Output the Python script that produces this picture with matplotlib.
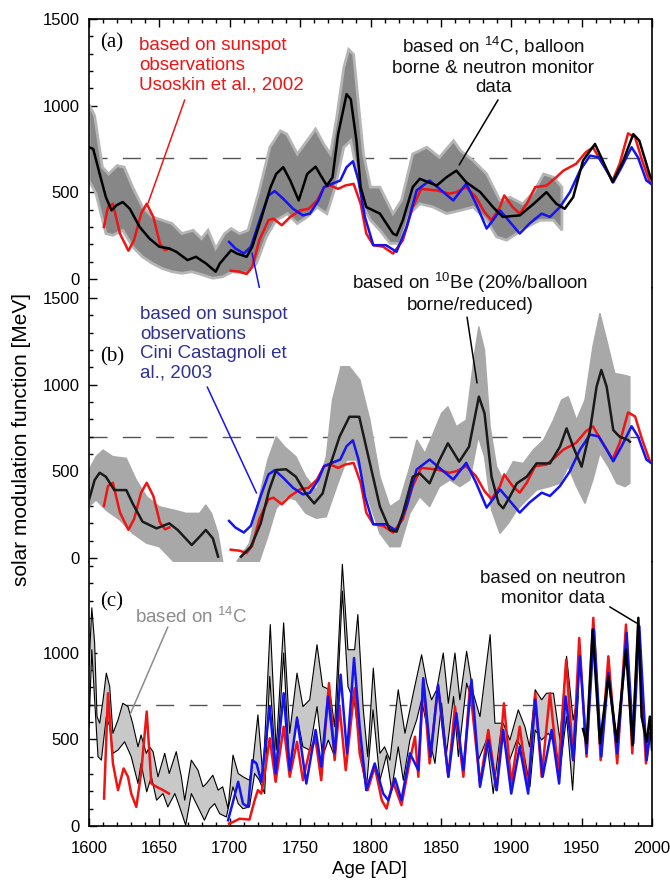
import matplotlib
matplotlib.use("Agg")
import matplotlib.pyplot as plt
import numpy as np
from matplotlib.ticker import MultipleLocator

plt.rcParams["font.family"] = ["Liberation Sans", "DejaVu Sans"]
plt.rcParams["font.size"] = 13.5
plt.rcParams["mathtext.fontset"] = "custom"
plt.rcParams["mathtext.rm"] = "Liberation Sans"

nan = np.nan

# ---- panel (a) / (b): sunspot based reconstructions (shared) ----
red_year = [1610.6, 1613.5, 1617, 1622, 1628, 1632, 1637, 1641, 1645.7, 1650.4, 1654, 1657, nan,
            1700.7, 1707, 1712, 1716, 1721, 1727.5, 1731, 1737, 1743, 1750, 1756, 1762, 1767, 1771.5,
            1777, 1782, 1788, 1793, 1797, 1802, 1809, 1816, 1823, 1830, 1836, 1847, 1856, 1861, 1868,
            1875, 1881, 1886, 1892, 1895, 1901, 1906, 1911, 1917, 1925, 1932, 1937, 1946, 1953, 1958,
            1965, 1972, 1977, 1983, 1988, 1993, 1998.5, 2000]
red_val = [300, 415, 434, 262, 163, 224, 377, 434, 358, 205, 166, 176, nan,
           48, 42, 29, 71, 224, 339, 348, 310, 358, 396, 405, 453, 530, 539,
           520, 539, 549, 434, 262, 195, 186, 147, 224, 415, 520, 511, 492, 501, 530,
           472, 386, 339, 415, 482, 415, 377, 434, 530, 539, 587, 625, 664, 731, 760,
           664, 568, 664, 840, 817, 683, 558, 545]

blue_year = [1699.5, 1704, 1710, 1715, 1722, 1727.5, 1732, 1738, 1745, 1752, 1757, 1763, 1767, 1772.6,
             1778.5, 1783, 1787.5, 1791.5, 1796, 1802, 1811, 1818.5, 1825.7, 1832.8, 1842, 1849, 1858.8,
             1868, 1875, 1882.5, 1887, 1892, 1898, 1906, 1913, 1921.6, 1927.5, 1934.6, 1941.7, 1948.8,
             1956, 1962, 1967.8, 1972.5, 1978.4, 1985.5, 1990, 1996, 2000]
blue_val = [214, 176, 147, 186, 358, 482, 507, 463, 405, 367, 377, 453, 530, 549,
            568, 645, 679, 568, 358, 195, 195, 157, 300, 511, 568, 520, 453,
            549, 434, 291, 339, 396, 339, 262, 320, 377, 358, 415, 501, 625,
            712, 702, 625, 558, 645, 760, 702, 568, 545]

# ---- panel (a): 14C, balloon borne & neutron monitor ----
a_black_year = [1600, 1603, 1607.6, 1612, 1616, 1619.5, 1624, 1629, 1636, 1643, 1650, 1657, 1662, 1670,
                1676, 1683, 1690, 1693, 1701, 1705, 1712, 1716, 1722, 1729, 1733, 1738, 1743, 1749, 1755,
                1761, 1764, 1769, 1773, 1777, 1783, 1786, 1790, 1793, 1797, 1806.7, 1816, 1818.5, 1823,
                1830, 1835, 1847, 1854, 1861, 1868, 1878, 1887, 1894, 1906, 1916, 1925, 1932, 1938, 1944,
                1951, 1959.5, 1965, 1972, 1979.6, 1986.7, 1991, 1998.5, 2000]
a_black_val = [760, 750, 606, 472, 396, 425, 444, 405, 300, 233, 186, 176, 157, 109,
               128, 90, 42, 90, 166, 147, 128, 186, 339, 530, 606, 645, 568, 453, 606,
               648, 606, 539, 587, 836, 1066, 1037, 798, 530, 415, 377, 262, 252, 339,
               530, 578, 539, 587, 625, 558, 501, 415, 358, 367, 434, 501, 434, 405, 472,
               683, 779, 683, 558, 683, 836, 798, 597, 570]

a_up_year = [1600, 1604, 1609.5, 1614, 1620, 1625, 1631, 1638, 1645, 1652, 1659, 1666, 1674, 1680,
             1684.6, 1690, 1696.4, 1701, 1707, 1713, 1721, 1728.5, 1736, 1740.5, 1748, 1755, 1761,
             1766.7, 1771.5, 1776, 1781, 1784.5, 1788, 1791.7, 1795, 1800, 1806.7, 1816, 1822, 1830,
             1840, 1849, 1859, 1864, 1873, 1882.5, 1892, 1899, 1908, 1916, 1923, 1930, 1936]
a_up_val = [1008, 941, 645, 606, 654, 645, 530, 415, 358, 339, 320, 262, 281, 233,
            281, 176, 262, 291, 262, 281, 511, 760, 855, 836, 721, 798, 865,
            779, 721, 932, 1219, 1324, 1295, 989, 721, 530, 530, 377, 453, 721,
            760, 702, 798, 740, 683, 606, 453, 472, 434, 501, 606, 587, 530]
a_lo_year = [1600, 1605, 1612, 1617, 1624, 1631, 1638, 1645, 1652, 1659, 1666, 1673, 1681, 1688, 1695,
             1702, 1712, 1719, 1726, 1733, 1741, 1748, 1755, 1762, 1769, 1775, 1781, 1786, 1790.6, 1795,
             1800, 1806.7, 1814, 1821, 1828, 1835, 1844.6, 1854, 1864, 1873, 1882.5, 1889.6, 1896.7,
             1904, 1911, 1920.4, 1930, 1936]
a_lo_val = [568, 492, 262, 252, 281, 186, 128, 90, 61, 42, 33, 42, 23, 4, 13,
            42, 33, 90, 243, 339, 377, 320, 358, 415, 377, 530, 760, 798, 606, 415,
            339, 281, 205, 205, 377, 434, 415, 377, 396, 415, 339, 243, 224,
            262, 300, 339, 339, 281]

# ---- panel (b): 10Be ----
b_black_year = [1600, 1604, 1607.6, 1612, 1618, 1626.5, 1631, 1638, 1648, 1657, 1663, 1673, 1678.6,
                1683, 1688, 1691.7, nan, 1708, 1715, 1722, 1728, 1733, 1740, 1747, 1754, 1760, 1766,
                1771, 1778, 1785, 1792, 1799.6, 1806.7, 1813.8, 1818.5, 1823, 1830, 1835, 1842, 1849,
                1855, 1863, 1870, 1877, 1881, 1886, 1891, 1894.3, 1899, 1904, 1911, 1918, 1927.5,
                1934.6, 1939.3, 1944, 1950, 1956, 1960.6, 1964, 1967.8, 1972.5, 1977, 1983, 1984.3]
b_black_val = [335, 450, 492, 469, 392, 392, 315, 210, 171, 200, 162, 75, 123,
               162, 113, 8, nan, 8, 65, 200, 392, 508, 512, 469, 373, 315, 373,
               527, 700, 815, 815, 546, 296, 162, 152, 258, 469, 488, 431, 565,
               662, 556, 642, 931, 835, 469, 315, 287, 354, 431, 469, 546, 546,
               642, 748, 642, 527, 738, 988, 1085, 988, 738, 700, 681, 671]

b_up1_year = [1600, 1605, 1610, 1617, 1626.5, 1633.6, 1641, 1650, 1660, 1669, 1678.6, 1683, 1687,
              1691.7, 1695]
b_up1_val = [508, 585, 623, 585, 575, 450, 354, 296, 277, 258, 258, 306, 258, 142, -20]
b_lo1_year = [1600, 1605, 1612, 1622, 1631, 1641, 1650, 1660, 1690]
b_lo1_val = [296, 335, 277, 219, 142, 85, 65, -20, -20]

b_up2_year = [1705, 1714, 1721, 1727, 1733, 1739, 1747, 1754, 1761.5, 1768.6, 1773, 1779, 1785,
              1792.5, 1799.6, 1806.7, 1813.8, 1821, 1828, 1833, 1838.7, 1844.6, 1850.5, 1855, 1861,
              1868, 1874, 1877, 1881, 1885, 1889.6, 1894.3, 1901.4, 1908.5, 1915.6, 1923, 1930,
              1935.8, 1940.5, 1946.4, 1952.4, 1958, 1963, 1967.8, 1973.6, 1979.6, 1984.3]
b_up2_val = [-20, 85, 354, 565, 700, 642, 585, 469, 392, 585, 912, 1104, 1104,
             1027, 796, 469, 296, 335, 527, 681, 604, 719, 835, 873, 758,
             796, 1181, 1335, 1200, 758, 527, 450, 556, 546, 623, 681, 796,
             912, 931, 796, 912, 1219, 1412, 1258, 1065, 1056, 1046]
b_lo2_year = [1705, 1721, 1727, 1733, 1740, 1747, 1754, 1761.5, 1768.6, 1776, 1783, 1790, 1797,
              1806.7, 1813.8, 1821, 1828, 1835, 1842, 1849, 1856.4, 1863.5, 1870.6, 1876.6, 1881,
              1886, 1892, 1898, 1904, 1911, 1918, 1927.5, 1934.6, 1940.5, 1946.4, 1952.4, 1958,
              1963, 1969, 1975, 1980.8, 1984.3]
b_lo2_val = [-20, -20, 123, 285, 354, 335, 258, 229, 238, 412, 565, 565, 373,
             142, 65, 65, 258, 354, 296, 412, 450, 412, 450, 700, 585,
             277, 142, 200, 277, 335, 392, 412, 431, 527, 412, 315, 450,
             604, 527, 431, 412, 431]

# ---- panel (c): annual values ----
c_up_year = [1600, 1602, 1604, 1605.7, 1607.6, 1610, 1612.3, 1614.7, 1617, 1620.6, 1624, 1627.7, 1631,
             1634.8, 1637, 1640.7, 1643, 1645.5, 1649, 1653.8, 1657, 1662, 1665.6, 1668, 1672.7,
             1677.4, 1681, 1683.4, 1688, 1691.7, 1695, 1698.8, 1702.3, 1706, 1709.4, 1714, 1716.5,
             1720, 1723.6, 1728.8, 1733, 1738.3, 1742.6, 1747.8, 1752, 1756.8, 1762, 1766, 1771,
             1774.5, 1780, 1784, 1788.7, 1791, 1794.7, 1798, 1802, 1806.7, 1810, 1813.8, 1819.7,
             1824.5, 1830.4, 1836.3, 1840, 1843.4, 1847, 1851.7, 1855.3, 1860, 1863.5, 1868.3, 1873,
             1877.8, 1885, 1888.4, 1894.3, 1899, 1905, 1909.7, 1913, 1917, 1921.6, 1925, 1930,
             1934.6, 1939.3, 1944, 1947.6]
c_up_val = [921, 1259, 1056, 631, 593, 728, 882, 805, 535, 612, 708, 689, 593,
            457, 525, 419, 457, 429, 284, 419, 303, 429, 284, 149, 380,
            322, 226, 245, 293, 207, 226, 100, 409, 303, 284, 264, 371,
            641, 284, 1162, 438, 1172, 535, 882, 689, 728, 1046, 805, 786,
            573, 1510, 1017, 1017, 1220, 689, 400, 911, 419, 457, 380, 786,
            535, 766, 988, 824, 728, 786, 998, 708, 998, 728, 1008, 766,
            631, 1104, 593, 593, 496, 670, 573, 457, 786, 728, 766, 766,
            496, 979, 612, 766]
c_lo_year = [1600, 1602, 1604, 1606.4, 1608.8, 1612.3, 1614.7, 1617, 1620.6, 1625.3, 1630, 1634.8,
             1637, 1641, 1644.3, 1648, 1652.6, 1656, 1661, 1664.4, 1668.7, 1672.7, 1677.4, 1682,
             1685.7, 1689.3, 1692.8, 1697.6, 1702.3, 1706, 1709.4, 1714, 1717.7, 1721, 1724.8,
             1728.4, 1733, 1738.3, 1742.6, 1747.8, 1752, 1756.8, 1762, 1766, 1770, 1774.5, 1780,
             1784, 1788.7, 1793.5, 1797, 1801.8, 1806.7, 1811.4, 1815, 1819.7, 1823.3, 1828, 1832.8,
             1836.3, 1842, 1845.8, 1850.5, 1854, 1859, 1862.4, 1868.3, 1871.8, 1876.6, 1882.5,
             1887.2, 1893, 1898, 1904, 1908.5, 1913.3, 1917, 1921.6, 1926.3, 1931, 1934.6, 1939.3,
             1943.6, 1947.6]
c_lo_val = [573, 1017, 728, 400, 380, 631, 573, 419, 438, 486, 400, 245,
            361, 197, 284, 149, 187, 110, 187, 110, 4, 187, 110, 33,
            100, 129, 71, 52, 226, 129, 100, 110, 303, 264, 187,
            863, 303, 998, 303, 631, 457, 438, 689, 400, 496, 400, 1355,
            805, 708, 380, 207, 670, 264, 409, 207, 457, 264, 496, 612,
            728, 496, 361, 708, 419, 747, 400, 824, 728, 380, 496,
            187, 573, 361, 496, 438, 226, 554, 496, 535, 477, 322, 631,
            207, 747]

c_red_year = [1610.7, 1613.5, 1617, 1620.6, 1624.6, 1627.7, 1630, 1633.6, 1637, 1641, 1644.3, 1648,
              1652.6, 1656.8, nan, 1699.5, 1702.3, 1707, 1714, 1717.7, 1720, 1722.4, 1724.8, 1728.4,
              1732.6, 1738.3, 1742.6, 1747.8, 1752, 1756.8, 1761, 1765, 1770.5, 1774.5, 1778, 1782.4,
              1788.7, 1792.3, 1798, 1803, 1808, 1811.4, 1816, 1822, 1828, 1831.6, 1834, 1837.5, 1842,
              1848, 1855.3, 1860, 1866, 1870.6, 1877.8, 1883.7, 1889.6, 1894.8, 1900, 1906, 1912,
              1917, 1921.6, 1927.5, 1933.4, 1939, 1944, 1948.3, 1953.5, 1958.3, 1963.5, 1969, 1975.3,
              1981.5, 1986, 1990.3, 1995.7, 1998.5]
c_red_val = [158, 766, 361, 207, 332, 284, 187, 110, 303, 660, 245, 226,
             207, 187, nan, 14, 23, 42, 37, 149, 207, 187, 303, 506,
             255, 573, 284, 486, 264, 438, 496, 264, 824, 380, 689, 322,
             795, 419, 207, 342, 149, 100, 255, 120, 380, 515, 284, 844, 361,
             805, 284, 689, 284, 805, 245, 554, 207, 708, 245, 573, 207,
             766, 284, 766, 303, 959, 380, 1085, 400, 1201, 380, 979, 361,
             1162, 419, 1153, 361, 535]

c_blue_year = [1698.8, 1701, 1706, 1709.4, 1713, 1716, 1719, 1722.4, 1728.4, 1732.6, 1738.3, 1742.6,
               1747.8, 1754.4, 1761, 1765, 1769.8, 1774.5, 1778.8, 1783.3, 1788.3, 1792.3, 1797, 1803,
               1809, 1812.6, 1817.4, 1822, 1828, 1834, 1837.5, 1842.7, 1848, 1855.3, 1861, 1866,
               1871.8, 1877.8, 1883.7, 1889.6, 1894.3, 1900, 1906, 1912, 1917, 1922.3, 1928.7, 1934,
               1938.6, 1944, 1948.8, 1953.5, 1958.8, 1964, 1969, 1975.3, 1982, 1986.7, 1991, 1996.2,
               1998.5]
c_blue_val = [33, 100, 255, 129, 110, 380, 361, 255, 689, 303, 766, 322,
              622, 245, 554, 342, 747, 419, 873, 419, 969, 573, 207, 361,
              187, 149, 274, 149, 419, 322, 853, 400, 815, 284, 651, 322,
              844, 226, 496, 207, 554, 187, 457, 187, 728, 284, 554, 245,
              747, 380, 979, 419, 1133, 400, 882, 419, 1114, 477, 1153, 380,
              535]

c_nm_year = [1951, 1953.5, 1957.8, 1963, 1969, 1975, 1981.5, 1986.2, 1990.3, 1992.6, 1996.2, 1998.5, 2000]
c_nm_val = [560, 477, 1133, 477, 863, 486, 1017, 467, 1201, 631, 486, 631, 440]

W, H = 670, 882
RED = "#f01414"
BLUE = "#1414f0"
NAVY = "#2e3192"


def fx(x):
    return x / W


def fy(y):
    return 1 - y / H


def band(ax, xu, yu, xl, yl, **kw):
    xs = np.r_[xu, xl[::-1]]
    ys = np.r_[yu, yl[::-1]]
    ax.fill(xs, ys, **kw)


fig = plt.figure(figsize=(6.7, 8.82), dpi=100)
left, width = fx(89), fx(652) - fx(89)
ax_a = fig.add_axes([left, fy(288), width, fy(19) - fy(288)])
ax_b = fig.add_axes([left, fy(562), width, fy(288) - fy(562)])
ax_c = fig.add_axes([left, fy(826), width, fy(562) - fy(826)])

ax_a.set_ylim(-52, 1500)
ax_b.set_ylim(-23, 1558)
ax_c.set_ylim(0, 1523)

for ax in (ax_a, ax_b, ax_c):
    ax.set_xlim(1600, 2000)
    ax.axhline(700, color="#555555", lw=1.0, dashes=(13, 11), zorder=1)
    ax.xaxis.set_major_locator(MultipleLocator(50))
    ax.xaxis.set_minor_locator(MultipleLocator(10))
    ax.yaxis.set_minor_locator(MultipleLocator(100))
    ax.tick_params(which="both", direction="in", width=1, labelsize=12, right=False)
    ax.tick_params(which="major", length=6)
    ax.tick_params(which="minor", length=3)
    ax.tick_params(axis="y", pad=7)
    ax.tick_params(axis="x", pad=11)
    for s in ax.spines.values():
        s.set_linewidth(1.2)

ax_a.set_yticks([0, 500, 1000, 1500])
ax_b.set_yticks([0, 500, 1000, 1500])
ax_c.set_yticks([0, 500, 1000])

ax_a.spines["bottom"].set_visible(False)
ax_b.spines["bottom"].set_visible(False)
ax_b.spines["top"].set_visible(False)
ax_c.spines["top"].set_visible(False)
ax_a.tick_params(which="both", bottom=False, labelbottom=False, top=True)
ax_b.tick_params(which="both", bottom=False, labelbottom=False, top=False)
ax_c.tick_params(which="both", bottom=True, top=False)

# panel (a)
band(ax_a, a_up_year, a_up_val, a_lo_year, a_lo_val, facecolor="#878787",
     edgecolor="#b5b5b5", lw=2, zorder=2)
ax_a.plot(red_year, red_val, color=RED, lw=1.8, zorder=3)
ax_a.plot(blue_year, blue_val, color=BLUE, lw=1.8, zorder=4)
ax_a.plot(a_black_year, a_black_val, color="black", lw=1.8, zorder=5)

# panel (b)
band(ax_b, b_up1_year, b_up1_val, b_lo1_year, b_lo1_val, facecolor="#a8a8a8",
     edgecolor="#a8a8a8", lw=1, zorder=2)
band(ax_b, b_up2_year, b_up2_val, b_lo2_year, b_lo2_val, facecolor="#a8a8a8",
     edgecolor="#a8a8a8", lw=1, zorder=2)
ax_b.plot(red_year, red_val, color=RED, lw=1.8, zorder=3)
ax_b.plot(blue_year, blue_val, color=BLUE, lw=1.8, zorder=4)
ax_b.plot(b_black_year, b_black_val, color="#1a1a1a", lw=1.8, zorder=5)

# panel (c)
band(ax_c, c_up_year, c_up_val, c_lo_year, c_lo_val, facecolor="#c8c8c8",
     edgecolor="none", zorder=2)
ax_c.plot(c_up_year, c_up_val, color="black", lw=0.8, zorder=3)
ax_c.plot(c_lo_year, c_lo_val, color="black", lw=0.8, zorder=3)
ax_c.plot(c_red_year, c_red_val, color=RED, lw=1.8, zorder=4)
ax_c.plot(c_blue_year, c_blue_val, color=BLUE, lw=1.8, zorder=5)
ax_c.plot(c_nm_year, c_nm_val, color="black", lw=1.8, zorder=6)

fig.text(fx(369), fy(870), "Age [AD]", ha="center", va="center", fontsize=13.5)
fig.text(fx(22), fy(440), "solar modulation function [MeV]", rotation=90,
         ha="center", va="center", fontsize=15)

# panel letters
serif = ["Liberation Serif", "DejaVu Serif"]
fig.text(fx(100), fy(43), "(a)", family=serif, fontsize=15, va="center")
fig.text(fx(100), fy(357), "(b)", family=serif, fontsize=15, va="center")
fig.text(fx(100), fy(602), "(c)", family=serif, fontsize=15, va="center")

# annotations
fig.text(fx(139), fy(65.5), "based on sunspot\nobservations\nUsoskin et al., 2002",
         color=RED, va="center", ha="left")
fig.text(fx(493), fy(65.5), "based on $^{14}$C, balloon\nborne & neutron monitor\ndata",
         color="#111111", va="center", ha="center")
fig.text(fx(140), fy(344), "based on sunspot\nobservations\nCini Castagnoli et\nal., 2003",
         color=NAVY, va="center", ha="left")
fig.text(fx(470), fy(292), "based on $^{10}$Be (20%/balloon\nborne/reduced)",
         color="#111111", va="center", ha="center")
fig.text(fx(135), fy(617), "based on $^{14}$C", color="#8c8c8c", va="center", ha="left")
fig.text(fx(553), fy(588.5), "based on neutron\nmonitor data",
         color="#111111", va="center", ha="center")

line = dict(arrowstyle="-", shrinkA=0, shrinkB=0)
ax_a.annotate("", xy=(1642, 438), xytext=(1668, 1033),
              arrowprops=dict(line, color=RED, lw=1.1))
ax_a.annotate("", xy=(1863, 658), xytext=(1890.6, 1033),
              arrowprops=dict(line, color="black", lw=1.1))
ax_a.annotate("", xy=(1715.8, 150), xytext=(fx(262), fy(300)), textcoords="figure fraction",
              arrowprops=dict(line, color=BLUE, lw=1.1), annotation_clip=False)
ax_b.annotate("", xy=(1719, 375), xytext=(1684, 987),
              arrowprops=dict(line, color=BLUE, lw=1.1))
ax_b.annotate("", xy=(1875.7, 1010), xytext=(1868.6, 1390),
              arrowprops=dict(line, color="black", lw=1.1))
ax_c.annotate("", xy=(1629, 640), xytext=(1656, 1148),
              arrowprops=dict(line, color="#8c8c8c", lw=1.1))
ax_c.annotate("", xy=(1989, 1171), xytext=(1970, 1264),
              arrowprops=dict(line, color="black", lw=1.1))

fig.savefig("out.png", dpi=100)
